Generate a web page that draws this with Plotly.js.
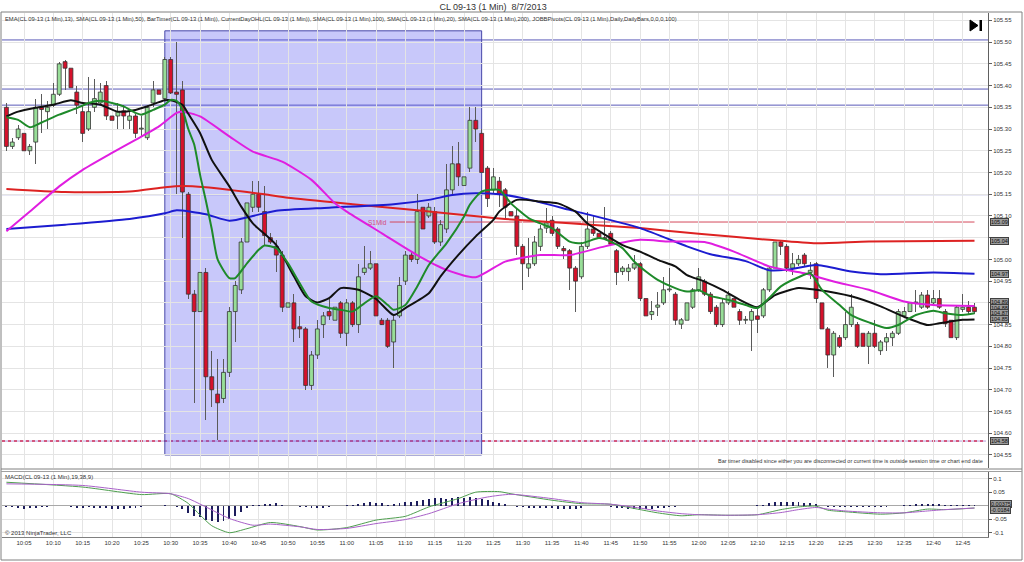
<!DOCTYPE html>
<html><head><meta charset="utf-8">
<script src="https://cdn.plot.ly/plotly-3.0.1.min.js"></script>
<style>html,body{margin:0;padding:0;background:#fff;}#chart{width:1024px;height:562px;}</style>
</head><body><div id="chart"></div>
<script>
const DAY = '2013-08-07 ';
const firstBar = '10:02';
// OHLC, one bar per minute from 10:02 to 12:47
const opens = [
105.35,105.26,105.28,105.29,105.25,105.27,105.35,105.34,105.355,105.38,
105.455,105.44,105.385,105.34,105.30,105.35,105.36,105.40,105.33,105.33,
105.342,105.32,105.33,105.30,105.28,105.36,105.39,105.37,105.46,105.385,
105.39,105.15,104.92,104.88,104.97,104.73,104.69,104.68,104.74,104.88,
104.93,105.04,105.12,105.15,105.11,105.05,105.03,105.01,104.89,104.90,
104.845,104.84,104.71,104.78,104.85,104.88,104.86,104.90,104.83,104.90,
104.85,104.97,104.98,104.99,104.86,104.86,104.81,104.87,104.95,105.01,
105.00,105.12,105.10,105.11,105.04,105.07,105.16,105.22,105.17,105.21,
105.32,105.29,105.21,105.16,105.18,105.16,105.11,105.10,105.03,104.98,
104.99,105.03,105.072,105.09,105.07,105.025,105.02,104.98,104.96,105.03,
105.07,105.06,105.05,105.06,105.02,104.972,104.972,104.98,104.99,104.91,
104.873,104.89,104.90,104.93,104.92,104.851,104.86,104.89,104.93,104.95,
104.92,104.89,104.85,104.90,104.91,104.88,104.86,104.86,104.87,104.87,
104.93,104.98,105.04,105.03,104.98,104.99,105.01,104.97,104.99,104.90,
104.84,104.78,104.82,104.82,104.85,104.85,104.83,104.80,104.83,104.79,
104.81,104.82,104.83,104.87,104.88,104.90,104.89,104.918,104.90,104.91,
104.88,104.86,104.82,104.885,104.89,104.89];
const highs = [
105.36,105.28,105.31,105.295,105.265,105.37,105.38,105.365,105.405,105.455,
105.46,105.49,105.40,105.355,105.42,105.415,105.405,105.41,105.335,105.36,
105.355,105.345,105.335,105.33,105.355,105.41,105.41,105.465,105.465,105.50,
105.41,105.155,104.93,104.98,104.98,104.79,104.77,104.77,104.89,104.95,
105.05,105.15,105.18,105.18,105.17,105.06,105.045,105.02,104.90,104.92,
104.87,104.845,104.79,104.86,104.88,104.91,104.915,104.905,104.91,104.905,
104.99,105.03,105.02,104.995,104.865,104.865,104.87,104.96,105.02,105.02,
105.15,105.13,105.13,105.12,105.09,105.22,105.26,105.27,105.22,105.35,
105.35,105.30,105.215,105.21,105.19,105.165,105.125,105.115,105.035,105.05,
105.055,105.08,105.118,105.10,105.075,105.03,105.025,104.985,105.04,105.11,
105.10,105.12,105.12,105.065,105.025,104.985,104.99,105.01,104.995,104.915,
104.905,104.926,104.96,104.98,104.925,104.865,104.905,104.935,104.98,104.955,
104.925,104.895,104.91,104.928,104.915,104.885,104.87,104.885,104.89,104.935,
104.985,105.06,105.045,105.035,105.015,105.01,105.015,104.995,104.995,104.905,
104.845,104.835,104.825,104.88,104.92,104.855,104.835,104.835,104.86,104.815,
104.83,104.835,104.885,104.89,104.96,104.93,104.925,104.93,104.93,104.93,
104.885,104.865,104.895,104.92,104.905,104.90];
const lows = [
105.25,105.255,105.275,105.21,105.24,105.22,105.29,105.30,105.35,105.375,
105.39,105.37,105.335,105.27,105.295,105.34,105.355,105.32,105.28,105.30,
105.30,105.30,105.28,105.285,105.275,105.35,105.375,105.365,105.38,105.15,
105.05,104.91,104.67,104.84,104.63,104.66,104.585,104.67,104.73,104.81,
104.92,105.03,105.11,105.11,105.03,105.035,104.97,104.88,104.885,104.81,
104.82,104.70,104.70,104.77,104.82,104.86,104.855,104.82,104.80,104.845,
104.83,104.965,104.975,104.865,104.85,104.795,104.75,104.865,104.94,104.995,
104.99,105.06,105.095,105.035,105.03,105.06,105.15,105.17,105.15,105.20,
105.27,105.20,105.12,105.15,105.12,105.095,105.09,105.01,104.93,104.96,
104.985,105.02,105.06,105.055,105.025,105.00,104.93,104.88,104.955,105.025,
105.055,105.045,105.045,105.03,104.94,104.965,104.95,104.975,104.905,104.83,
104.86,104.87,104.895,104.925,104.85,104.84,104.855,104.885,104.925,104.915,
104.875,104.845,104.845,104.895,104.885,104.85,104.852,104.79,104.83,104.865,
104.925,104.975,105.01,104.97,104.965,104.985,104.985,104.955,104.90,104.835,
104.75,104.73,104.795,104.815,104.845,104.795,104.795,104.76,104.795,104.78,
104.79,104.80,104.825,104.865,104.875,104.88,104.885,104.885,104.895,104.885,
104.845,104.82,104.815,104.88,104.875,104.875];
const closes = [
105.26,105.27,105.30,105.25,105.26,105.35,105.345,105.35,105.38,105.45,
105.44,105.395,105.355,105.29,105.34,105.37,105.385,105.33,105.32,105.34,
105.33,105.33,105.29,105.302,105.35,105.39,105.38,105.46,105.383,105.38,
105.155,104.92,104.88,104.97,104.73,104.70,104.67,104.74,104.88,104.94,
105.04,105.13,105.15,105.12,105.055,105.04,105.01,104.89,104.90,104.84,
104.84,104.71,104.78,104.84,104.87,104.87,104.89,104.83,104.90,104.85,
104.96,104.98,104.99,104.87,104.85,104.80,104.86,104.94,105.01,105.00,
105.11,105.07,105.12,105.04,105.08,105.16,105.22,105.19,105.19,105.32,
105.30,105.20,105.14,105.19,105.15,105.12,105.10,105.03,104.99,104.99,
105.04,105.07,105.084,105.06,105.03,105.02,104.98,104.95,105.03,105.07,
105.06,105.05,105.048,105.035,104.97,104.98,104.98,104.99,104.91,104.87,
104.88,104.895,104.93,104.932,104.86,104.861,104.90,104.93,104.96,104.92,
104.88,104.85,104.90,104.918,104.89,104.86,104.862,104.88,104.862,104.93,
104.98,105.04,105.03,104.98,104.99,105.00,104.99,104.975,104.91,104.84,
104.78,104.83,104.80,104.85,104.89,104.80,104.80,104.83,104.80,104.81,
104.82,104.83,104.88,104.88,104.90,104.902,104.918,104.89,104.91,104.89,
104.852,104.82,104.89,104.89,104.88,104.88];
// MACD histogram, one value per bar
const macdHist = [
-0.004,-0.006,-0.010,-0.013,-0.010,-0.008,-0.006,-0.004,-0.003,-0.001,
-0.002,-0.006,-0.008,-0.009,-0.007,-0.008,-0.009,-0.010,-0.011,-0.012,
-0.011,-0.010,-0.008,-0.006,-0.003,-0.001,0.000,0.001,-0.001,-0.004,
-0.014,-0.028,-0.037,-0.043,-0.053,-0.058,-0.062,-0.056,-0.049,-0.037,
-0.025,-0.010,0.001,0.004,0.006,0.007,0.008,0.002,0.000,-0.002,
-0.004,-0.006,-0.008,-0.010,-0.008,-0.005,-0.001,0.000,0.001,0.002,
0.006,0.010,0.012,0.011,0.008,0.004,0.005,0.008,0.012,0.015,
0.018,0.022,0.026,0.028,0.027,0.026,0.030,0.031,0.030,0.031,
0.030,0.025,0.020,0.015,0.010,0.005,-0.002,-0.005,-0.007,-0.009,
-0.010,-0.010,-0.009,-0.010,-0.011,-0.012,-0.012,-0.011,-0.009,-0.003,
-0.002,-0.002,-0.003,-0.005,-0.008,-0.010,-0.011,-0.012,-0.013,-0.013,
-0.012,-0.010,-0.008,-0.006,-0.004,-0.003,-0.002,-0.002,-0.001,-0.001,
-0.001,-0.001,0.000,0.000,0.000,0.000,-0.001,0.000,0.001,0.004,
0.008,0.012,0.013,0.014,0.013,0.012,0.011,0.010,0.006,-0.002,
-0.004,-0.005,-0.006,-0.006,-0.006,-0.006,-0.005,-0.005,-0.005,-0.005,
-0.004,-0.002,-0.001,0.002,0.004,0.005,0.005,0.006,0.005,0.005,
0.004,0.004,0.004,0.004,0.004,0.004];

// Moving averages (read at sample times)
const sma200Times = ['10:02','10:12','10:23','10:29','10:32','10:36','10:40','10:46','10:50','11:01','11:12','11:23','11:27','11:38','11:50','12:00','12:12','12:20','12:29','12:47'];
const sma200Vals = [105.162,105.155,105.156,105.166,105.169,105.166,105.160,105.150,105.142,105.127,105.113,105.098,105.093,105.083,105.072,105.059,105.045,105.037,105.041,105.043];
const sma100Times = ['10:02','10:12','10:23','10:29','10:31','10:36','10:40','10:44','10:48','10:57','11:08','11:14','11:18','11:22','11:26','11:30','11:38','11:50','11:58','12:02','12:08','12:12','12:15','12:20','12:26','12:31','12:40','12:47'];
const sma100Vals = [105.070,105.080,105.093,105.106,105.113,105.104,105.089,105.100,105.112,105.119,105.127,105.137,105.148,105.152,105.150,105.141,105.114,105.072,105.030,105.012,104.996,104.975,104.976,104.987,104.972,104.966,104.970,104.967];
const sma50Times = ['10:02','10:06','10:11','10:15','10:20','10:24','10:28','10:31','10:32','10:35','10:40','10:44','10:49','10:54','10:58','11:00','11:06','11:12','11:17','11:22','11:27','11:33','11:38','11:44','11:50','11:55','12:01','12:06','12:12','12:18','12:23','12:29','12:35','12:40','12:47'];
const sma50Vals = [105.065,105.110,105.168,105.206,105.245,105.275,105.306,105.337,105.340,105.329,105.283,105.248,105.225,105.183,105.129,105.110,105.060,105.010,104.976,104.959,104.995,105.010,105.010,105.030,105.045,105.041,105.040,105.018,104.984,104.968,104.949,104.930,104.903,104.895,104.893];
const sma20Times = ['10:02','10:04','10:07','10:10','10:13','10:15','10:18','10:21','10:24','10:26','10:29','10:30','10:32','10:33','10:35','10:37','10:40','10:42','10:44','10:48','10:51','10:53','10:55','10:57','10:59','11:02','11:05','11:08','11:10','11:14','11:16','11:19','11:22','11:25','11:26','11:29','11:33','11:36','11:39','11:41','11:44','11:47','11:50','11:53','11:56','11:58','12:01','12:04','12:07','12:10','12:13','12:17','12:20','12:26','12:31','12:35','12:39','12:41','12:45','12:47'];
const sma20Vals = [105.329,105.340,105.349,105.356,105.366,105.360,105.356,105.340,105.344,105.352,105.366,105.366,105.356,105.335,105.291,105.229,105.168,105.122,105.083,105.033,104.961,104.915,104.901,104.911,104.934,104.930,104.909,104.872,104.888,104.922,104.961,105.010,105.053,105.091,105.110,105.137,105.133,105.129,105.110,105.083,105.057,105.033,105.018,104.999,104.984,104.964,104.949,104.930,104.907,104.890,104.918,104.934,104.930,104.915,104.892,104.868,104.849,104.853,104.861,104.862];
const ema13Times = ['10:02','10:04','10:06','10:08','10:11','10:14','10:16','10:18','10:20','10:22','10:24','10:25','10:27','10:29','10:30','10:31','10:32','10:33','10:34','10:35','10:36','10:37','10:38','10:40','10:41','10:43','10:45','10:46','10:48','10:50','10:52','10:54','10:57','10:59','11:01','11:03','11:05','11:07','11:08','11:10','11:12','11:14','11:17','11:20','11:21','11:23','11:26','11:28','11:31','11:33','11:35','11:38','11:40','11:43','11:45','11:47','11:49','11:51','11:53','11:56','11:58','12:00','12:02','12:05','12:08','12:10','12:12','12:14','12:17','12:19','12:21','12:24','12:26','12:29','12:32','12:34','12:37','12:40','12:42','12:45','12:47'];
const ema13Vals = [105.327,105.321,105.304,105.315,105.333,105.348,105.360,105.365,105.360,105.352,105.337,105.333,105.344,105.356,105.367,105.365,105.345,105.300,105.265,105.195,105.135,105.070,105.000,104.957,104.957,104.991,105.022,105.032,105.026,104.991,104.945,104.903,104.888,104.884,104.880,104.899,104.915,104.895,104.884,104.895,104.937,104.987,105.037,105.099,105.126,105.156,105.160,105.129,105.095,105.083,105.072,105.041,105.037,105.049,105.041,105.026,104.995,104.972,104.953,104.934,104.926,104.929,104.916,104.907,104.895,104.888,104.911,104.938,104.959,104.968,104.930,104.895,104.872,104.855,104.842,104.849,104.872,104.882,104.876,104.872,104.876];
// MACD lines
const macdTimes = ['10:02','10:15','10:25','10:30','10:33','10:35','10:37','10:40','10:43','10:47','10:52','10:55','11:00','11:05','11:10','11:14','11:19','11:22','11:26','11:28','11:35','11:40','11:45','11:50','11:53','11:57','12:00','12:05','12:10','12:14','12:17','12:20','12:22','12:25','12:31','12:35','12:39','12:42','12:47'];
const macdVals = [0.087,0.069,0.041,0.044,0.008,-0.035,-0.075,-0.101,-0.086,-0.063,-0.078,-0.091,-0.082,-0.054,-0.040,-0.005,0.026,0.050,0.052,0.044,0.020,0.007,0.005,-0.015,-0.027,-0.038,-0.034,-0.036,-0.034,-0.015,-0.005,-0.002,-0.017,-0.023,-0.032,-0.027,-0.013,-0.015,-0.009];
const signalTimes = ['10:02','10:15','10:25','10:30','10:33','10:36','10:40','10:44','10:47','10:52','10:55','11:00','11:05','11:10','11:14','11:19','11:24','11:28','11:35','11:40','11:45','11:50','11:53','11:57','12:00','12:05','12:10','12:14','12:17','12:20','12:22','12:25','12:31','12:35','12:39','12:42','12:47'];
const signalVals = [0.081,0.075,0.050,0.044,0.026,-0.005,-0.048,-0.073,-0.069,-0.079,-0.089,-0.085,-0.067,-0.052,-0.030,0.007,0.032,0.042,0.026,0.011,0.005,-0.009,-0.020,-0.030,-0.034,-0.036,-0.034,-0.026,-0.015,-0.007,-0.013,-0.020,-0.027,-0.027,-0.020,-0.015,-0.009];

// Levels
const pivotLevels = [105.505, 105.392, 105.355, 105.149];
const dayLow = 104.582;
const s1Mid = 105.086, s1MidStart = '11:07:20', s1MidEnd = '12:47';
const zoneStart = '10:29', zoneEnd = '11:23', zoneTop = 105.526, zoneBottom = 104.55;
const priceTags = [[105.086,'105.09'],[105.043,'105.04'],[104.967,'104.97'],[104.901,'104.89'],[104.889,'104.88'],[104.877,'104.87'],[104.862,'104.85'],[104.582,'104.58']];
const macdTags = [[0.0060,'0.00375'],[-0.0150,'-0.0184']];
// price axis labels (those hidden under the value tags in the chart are left blank)
const priceTickVals = [104.55,104.60,104.65,104.70,104.75,104.80,104.85,104.90,104.95,105.00,105.05,105.10,105.15,105.20,105.25,105.30,105.35,105.40,105.45,105.50,105.55];
const priceTickText = ['104.55','104.60','104.65','104.70','104.75','104.80','104.85','','104.95','105.00','','105.10','105.15','105.20','105.25','105.30','105.35','105.40','105.45','105.50','105.55'];
const xTickLabels = ['10:05','10:10','10:15','10:20','10:25','10:30','10:35','10:40','10:45','10:50','10:55','11:00','11:05','11:10','11:15','11:20','11:25','11:30','11:35','11:40','11:45','11:50','11:55','12:00','12:05','12:10','12:15','12:20','12:25','12:30','12:35','12:40','12:45'];

function T(hm){ return DAY + (hm.length === 5 ? hm + ':00' : hm); }
const pad = n => (n < 10 ? '0' : '') + n;
const startMin = parseInt(firstBar.slice(0,2))*60 + parseInt(firstBar.slice(3));
const barTimes = opens.map((_, i) => { const m = startMin + i; return DAY + pad(Math.floor(m/60)) + ':' + pad(m%60) + ':00'; });

// candle geometry derived from the OHLC arrays
const UP = '#98de98', DOWN = '#d6112b';
const bodyBase = opens.map((o, i) => Math.min(o, closes[i]));
const bodyHeight = opens.map((o, i) => Math.max(Math.abs(closes[i] - o), 0.0012));
const bodyColor = opens.map((o, i) => closes[i] >= o ? UP : DOWN);
const wickHeight = highs.map((h, i) => h - lows[i]);

// pixel helpers for paper coords (plot area x: 2..988, y: 13..537)
const PX = px => (px - 2) / 986;
const PY = py => (537 - py) / 524;

const FONT = 'Liberation Sans, Arial, sans-serif';

const traces = [
  {type:'bar', x: barTimes, y: macdHist, width: 20000, marker:{color:'#1c1c5c', line:{width:0}}, xaxis:'x', yaxis:'y2', hoverinfo:'skip'},
  {type:'scatter', mode:'lines', x: macdTimes.map(T), y: macdVals, line:{color:'#4e9e4e', width:1, shape:'spline', smoothing:0.6}, xaxis:'x', yaxis:'y2', hoverinfo:'skip'},
  {type:'scatter', mode:'lines', x: signalTimes.map(T), y: signalVals, line:{color:'#a860c8', width:1, shape:'spline', smoothing:0.6}, xaxis:'x', yaxis:'y2', hoverinfo:'skip'},
  // wicks
  {type:'bar', x: barTimes, base: lows, y: wickHeight, width: 9000, marker:{color:'#5a5a5a', line:{width:0}}, xaxis:'x', yaxis:'y', hoverinfo:'skip'},
  // bodies
  {type:'bar', x: barTimes, base: bodyBase, y: bodyHeight, width: 40000, marker:{color: bodyColor, line:{color:'#333333', width:0.8}}, xaxis:'x', yaxis:'y', hoverinfo:'skip'},
  {type:'scatter', mode:'lines', x: sma200Times.map(T), y: sma200Vals, line:{color:'#dd2222', width:2, shape:'spline', smoothing:0.6}, hoverinfo:'skip'},
  {type:'scatter', mode:'lines', x: sma100Times.map(T), y: sma100Vals, line:{color:'#1c1cd0', width:2, shape:'spline', smoothing:0.6}, hoverinfo:'skip'},
  {type:'scatter', mode:'lines', x: sma50Times.map(T), y: sma50Vals, line:{color:'#e01ee0', width:2, shape:'spline', smoothing:0.6}, hoverinfo:'skip'},
  {type:'scatter', mode:'lines', x: sma20Times.map(T), y: sma20Vals, line:{color:'#111111', width:2, shape:'spline', smoothing:0.6}, hoverinfo:'skip'},
  {type:'scatter', mode:'lines', x: ema13Times.map(T), y: ema13Vals, line:{color:'#1e8a2a', width:2, shape:'spline', smoothing:0.6}, hoverinfo:'skip'}
];

const shapes = [];
shapes.push({type:'rect', xref:'x', yref:'y', x0:T(zoneStart), x1:T(zoneEnd), y0:zoneBottom, y1:zoneTop,
  fillcolor:'rgba(85,85,238,0.32)', line:{color:'#4848a8', width:1}, layer:'below'});
pivotLevels.forEach(p => shapes.push({type:'line', xref:'paper', yref:'y', x0:0, x1:1, y0:p, y1:p, line:{color:'#5a5ab8', width:1}, layer:'below'}));
shapes.push({type:'line', xref:'paper', yref:'y', x0:0, x1:0.998, y0:dayLow, y1:dayLow, line:{color:'#b49ad8', width:1}, layer:'below'});
shapes.push({type:'line', xref:'paper', yref:'y', x0:0, x1:0.998, y0:dayLow, y1:dayLow, line:{color:'#d2325a', width:1.5, dash:'dot'}, layer:'below'});
shapes.push({type:'line', xref:'x', yref:'y', x0:T(s1MidStart), x1:T(s1MidEnd), y0:s1Mid, y1:s1Mid, line:{color:'#d44a5c', width:1}, layer:'below'});
// panel frames
shapes.push({type:'rect', xref:'paper', yref:'paper', x0:PX(1), x1:PX(1022), y0:PY(560), y1:PY(12), line:{color:'#808080', width:1}, fillcolor:'rgba(0,0,0,0)', layer:'above'});
shapes.push({type:'line', xref:'paper', yref:'paper', x0:PX(1), x1:PX(1022), y0:PY(469), y1:PY(469), line:{color:'#808080', width:1}});
shapes.push({type:'line', xref:'paper', yref:'paper', x0:PX(1), x1:PX(1022), y0:PY(471.5), y1:PY(471.5), line:{color:'#a0a0a0', width:1}});
// "go to last bar" icon
shapes.push({type:'path', xref:'paper', yref:'paper', path:`M ${PX(970)} ${PY(20)} L ${PX(970)} ${PY(31)} L ${PX(978)} ${PY(25.5)} Z`, fillcolor:'#000', line:{color:'#000', width:1}});
shapes.push({type:'rect', xref:'paper', yref:'paper', x0:PX(979.5), x1:PX(982), y0:PY(31), y1:PY(20), fillcolor:'#000', line:{color:'#000', width:0}});

const annotations = [];
annotations.push({xref:'paper', yref:'paper', x:PX(3), y:PY(19), xanchor:'left', yanchor:'middle', showarrow:false,
  text:'EMA(CL 09-13 (1 Min),13), SMA(CL 09-13 (1 Min),50), BarTimer(CL 09-13 (1 Min)), CurrentDayOHL(CL 09-13 (1 Min)), SMA(CL 09-13 (1 Min),100), SMA(CL 09-13 (1 Min),20), SMA(CL 09-13 (1 Min),200), JOBBPivots(CL 09-13 (1 Min),Daily,DailyBars,0,0,0,100)',
  font:{family:FONT, size:5.8, color:'#333'}});
annotations.push({xref:'paper', yref:'paper', x:PX(3), y:PY(477), xanchor:'left', yanchor:'middle', showarrow:false,
  text:'MACD(CL 09-13 (1 Min),19,38,9)', font:{family:FONT, size:6, color:'#333'}});
annotations.push({xref:'paper', yref:'paper', x:PX(3), y:PY(533), xanchor:'left', yanchor:'middle', showarrow:false,
  text:'© 2013 NinjaTrader, LLC', font:{family:FONT, size:6, color:'#333'}});
annotations.push({xref:'paper', yref:'paper', x:PX(985), y:PY(461), xanchor:'right', yanchor:'middle', showarrow:false,
  text:'Bar timer disabled since either you are disconnected or current time is outside session time or chart end date', font:{family:FONT, size:5.5, color:'#333'}});
annotations.push({xref:'x', yref:'y', x:T(s1MidStart), y:s1Mid, xanchor:'right', yanchor:'middle', xshift:-1, showarrow:false,
  text:'S1Mid', font:{family:FONT, size:6.5, color:'#d44a7a'}});
priceTags.forEach(([v, l]) => annotations.push({xref:'paper', yref:'y', x:PX(990), y:v, xanchor:'left', yanchor:'middle', showarrow:false,
  text:l, font:{family:FONT, size:5.5, color:'#111'}, bgcolor:'#9c9c9c', bordercolor:'#404040', borderwidth:1, borderpad:0}));
macdTags.forEach(([v, l]) => annotations.push({xref:'paper', yref:'y2', x:PX(990), y:v, xanchor:'left', yanchor:'middle', showarrow:false,
  text:l, font:{family:FONT, size:5.5, color:'#111'}, bgcolor:'#9c9c9c', bordercolor:'#404040', borderwidth:1, borderpad:0}));

const layout = {
  width:1024, height:562,
  margin:{l:2, r:36, t:13, b:25, pad:0},
  paper_bgcolor:'#ffffff', plot_bgcolor:'#ffffff',
  font:{family:FONT, size:6, color:'#333'},
  showlegend:false, barmode:'overlay', bargap:0, dragmode:false,
  title:{text:'CL 09-13 (1 Min)  8/7/2013', x:0.498, xanchor:'center', xref:'paper', y:1-7/562, yref:'container', yanchor:'middle', font:{family:FONT, size:9, color:'#333'}},
  xaxis:{type:'date', domain:[0,1], anchor:'y2', range:[T('10:01:15'), T('12:49:18')],
    tickvals: xTickLabels.map(T), ticktext: xTickLabels, showgrid:true, gridcolor:'#e4e4e4', gridwidth:1,
    ticks:'', showline:true, linecolor:'#808080', linewidth:1, tickfont:{family:FONT, size:6, color:'#333'},
    rangeslider:{visible:false}, fixedrange:true, zeroline:false},
  yaxis:{domain:[PY(468), 1], side:'right', anchor:'x', range:[104.520, 105.567], tickvals:priceTickVals, ticktext:priceTickText,
    showgrid:true, gridcolor:'#e4e4e4', ticks:'outside', ticklen:3, tickcolor:'#606060', showline:true, linecolor:'#606060',
    zeroline:false, tickfont:{family:FONT, size:6, color:'#333'}, fixedrange:true},
  yaxis2:{domain:[0, PY(471.5)], side:'right', anchor:'x', range:[-0.117, 0.127], tickvals:[-0.1,-0.05,0.05,0.1], ticktext:['-0.1','-0.05','0.05','0.1'],
    showgrid:true, gridcolor:'#e4e4e4', ticks:'outside', ticklen:3, tickcolor:'#606060', showline:true, linecolor:'#606060',
    zeroline:true, zerolinecolor:'#a8a8a8', zerolinewidth:1, tickfont:{family:FONT, size:6, color:'#333'}, fixedrange:true},
  shapes: shapes,
  annotations: annotations
};

Plotly.newPlot('chart', traces, layout, {displayModeBar:false, staticPlot:true});
</script>
</body></html>
